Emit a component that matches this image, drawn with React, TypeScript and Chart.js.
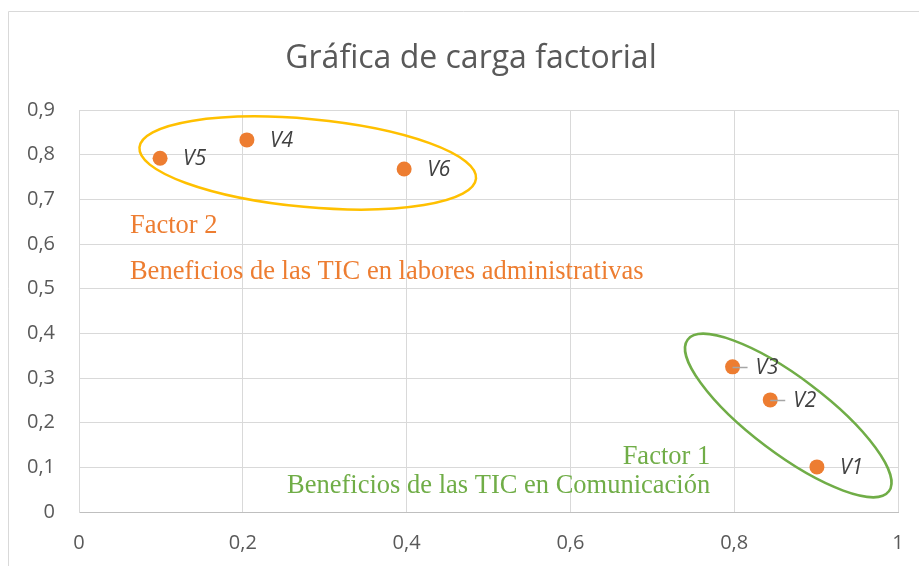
import React, { useEffect, useRef } from 'react';
import { Chart, registerables } from 'chart.js';

Chart.register(...registerables);

// ---- data ----
const chartTitle = 'Gráfica de carga factorial';
const variableNames = ['V1', 'V2', 'V3', 'V4', 'V5', 'V6'];
const factorLoadingX = [0.901, 0.844, 0.798, 0.205, 0.099, 0.397];
const factorLoadingY = [0.101, 0.251, 0.325, 0.833, 0.792, 0.768];
const leaderLineNames = ['V2', 'V3'];
const xTickLabels = ['0', '0,2', '0,4', '0,6', '0,8', '1'];
const yTickLabels = ['0', '0,1', '0,2', '0,3', '0,4', '0,5', '0,6', '0,7', '0,8', '0,9'];

const factor2Texts = ['Factor 2', 'Beneficios de las TIC en labores administrativas'];
const factor1Texts = ['Factor 1', 'Beneficios de las TIC en Comunicación'];

// ---- styles ----
const ORANGE = '#ED7D31';
const GREEN = '#70AD47';
const YELLOW = '#FFC000';
const GRID = '#D9D9D9';
const TEXT = '#595959';
const SANS = "'Open Sans', sans-serif";
const SERIF = "'Liberation Serif', 'Times New Roman', serif";

// ellipse annotations: centre in data units, radii in px, angle in degrees
const groupEllipses = [
  { cx: 0.2793, cy: 0.7813, rx: 169, ry: 44, angle: 5.3, color: YELLOW },
  { cx: 0.866, cy: 0.216, rx: 126, ry: 38, angle: 37, color: GREEN },
];

// text annotations anchored in data units
const textNotes = [
  { text: factor2Texts[0], x: 0.0622, y: 0.6246, align: 'left', color: ORANGE },
  { text: factor2Texts[1], x: 0.0622, y: 0.5216, align: 'left', color: ORANGE },
  { text: factor1Texts[0], x: 0.7707, y: 0.1075, align: 'right', color: GREEN },
  { text: factor1Texts[1], x: 0.7707, y: 0.0425, align: 'right', color: GREEN },
];

const overlayPlugin = {
  id: 'overlay',
  afterLayout(chart: any) {
    // the chart frame extends past the right edge; centre the title on it
    if (chart.titleBlock) chart.titleBlock.left = 44;
  },
  beforeDraw(chart: any) {
    const ctx = chart.ctx;
    ctx.save();
    ctx.strokeStyle = GRID;
    ctx.lineWidth = 1;
    ctx.beginPath();
    ctx.moveTo(8.5, chart.height);
    ctx.lineTo(8.5, 11.5);
    ctx.lineTo(chart.width, 11.5);
    ctx.stroke();
    ctx.restore();
  },
  afterDatasetsDraw(chart: any) {
    const ctx = chart.ctx;
    const xs = chart.scales.x;
    const ys = chart.scales.y;
    ctx.save();
    // ellipses
    groupEllipses.forEach((e) => {
      ctx.beginPath();
      ctx.ellipse(
        xs.getPixelForValue(e.cx),
        ys.getPixelForValue(e.cy),
        e.rx,
        e.ry,
        (e.angle * Math.PI) / 180,
        0,
        Math.PI * 2
      );
      ctx.strokeStyle = e.color;
      ctx.lineWidth = 2.5;
      ctx.stroke();
    });
    // point labels
    const meta = chart.getDatasetMeta(0);
    meta.data.forEach((pt: any, i: number) => {
      const name = variableNames[i];
      const px = pt.x;
      const py = pt.y;
      if (leaderLineNames.includes(name)) {
        ctx.beginPath();
        ctx.moveTo(px, Math.round(py) + 0.5);
        ctx.lineTo(px + 15, Math.round(py) + 0.5);
        ctx.strokeStyle = '#A6A6A6';
        ctx.lineWidth = 1.5;
        ctx.stroke();
      }
      ctx.font = `italic 21px ${SANS}`;
      ctx.fillStyle = '#404040';
      ctx.textAlign = 'left';
      ctx.textBaseline = 'middle';
      ctx.fillText(name, px + 23, py + 1);
    });
    // text notes
    ctx.font = `26.5px ${SERIF}`;
    ctx.textBaseline = 'alphabetic';
    textNotes.forEach((n) => {
      ctx.fillStyle = n.color;
      ctx.textAlign = n.align as CanvasTextAlign;
      ctx.fillText(n.text, xs.getPixelForValue(n.x), ys.getPixelForValue(n.y));
    });
    ctx.restore();
  },
};

export default function App() {
  const canvasRef = useRef<HTMLCanvasElement | null>(null);

  useEffect(() => {
    const canvas = canvasRef.current;
    if (!canvas) return;
    const points = factorLoadingX.map((x, i) => ({ x, y: factorLoadingY[i] }));
    const chart = new Chart(canvas, {
      type: 'scatter',
      data: {
        datasets: [
          {
            label: 'Carga factorial',
            data: points,
            backgroundColor: ORANGE,
            borderColor: ORANGE,
            borderWidth: 0,
            pointRadius: 7.5,
            pointHoverRadius: 7.5,
          },
        ],
      },
      options: {
        responsive: false,
        animation: false,
        devicePixelRatio: 1,
        layout: { padding: { left: 0, right: 21, top: 12, bottom: 0 } },
        plugins: {
          legend: { display: false },
          tooltip: { enabled: false },
          title: {
            display: true,
            text: chartTitle,
            color: TEXT,
            font: { family: SANS, size: 32, weight: 'normal', lineHeight: 1.2 },
            padding: { top: 28, bottom: 31.6 },
          },
        },
        scales: {
          x: {
            type: 'linear',
            min: 0,
            max: 1,
            ticks: {
              stepSize: 0.2,
              color: TEXT,
              font: { family: SANS, size: 20 },
              padding: 19,
              maxRotation: 0,
              callback: (_v: any, i: number) => xTickLabels[i],
            },
            grid: { color: GRID, drawTicks: false, lineWidth: 1 },
            border: { color: '#BFBFBF', width: 1 },
            afterFit: (s: any) => {
              s.height = 54;
              s.paddingLeft = 6;
              s.paddingRight = 6;
            },
          },
          y: {
            type: 'linear',
            min: 0,
            max: 0.9,
            ticks: {
              stepSize: 0.1,
              color: TEXT,
              font: { family: SANS, size: 20 },
              padding: 24,
              callback: (_v: any, i: number) => yTickLabels[i],
            },
            grid: { color: GRID, drawTicks: false, lineWidth: 1 },
            border: { color: GRID, width: 1 },
            afterFit: (s: any) => {
              s.width = 79;
            },
          },
        },
      },
      plugins: [overlayPlugin],
    });
    return () => chart.destroy();
  }, []);

  return (
    <div style={{ position: 'absolute', left: 0, top: 0, width: 919, height: 566, background: '#fff' }}>
      <canvas ref={canvasRef} width={919} height={566} style={{ display: 'block' }} />
    </div>
  );
}
